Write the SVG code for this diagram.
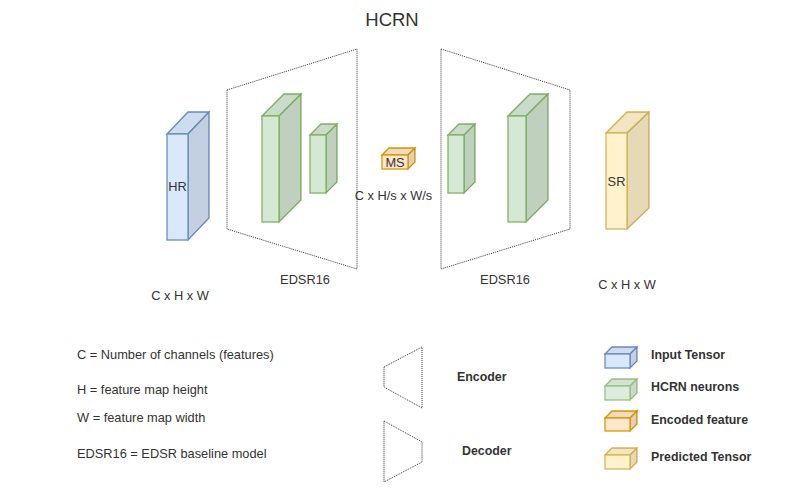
<svg xmlns="http://www.w3.org/2000/svg" width="804" height="500" viewBox="0 0 804 500">
<style>
text{font-family:"Liberation Sans",Arial,Helvetica,sans-serif;fill:#333;font-size:12.8px}
.b{font-weight:bold;font-size:12.4px}
.trap{fill:none;stroke:#333;stroke-width:1;stroke-dasharray:1 1}
.blue{fill:#dae8fc;stroke:#6c8ebf;stroke-width:1.3}
.green{fill:#d5e8d4;stroke:#82b366;stroke-width:1.3}
.orange{fill:#ffe6cc;stroke:#d79b00;stroke-width:1.3}
.yellow{fill:#fff2cc;stroke:#d6b656;stroke-width:1.3}
.shade1{fill:#000;fill-opacity:0.05;stroke:none}
.shade2{fill:#000;fill-opacity:0.1;stroke:none}
</style>
<rect width="804" height="500" fill="#fff"/>
<text x="392" y="26" text-anchor="middle" style="font-size:18.5px">HCRN</text>

<g id="encoder">
<polygon class="trap" points="227,90 357,49 357,269 227,229"/>
</g>
<g id="decoder">
<polygon class="trap" points="441,49 570,90 570,229 441,269"/>
</g>

<g id="hr">
<polygon class="blue" points="167,134 188,112 209,112 188,134"/>
<polygon class="shade1" points="167,134 188,112 209,112 188,134"/>
<polygon class="blue" points="188,134 209,112 209,218 188,240"/>
<polygon class="shade2" points="188,134 209,112 209,218 188,240"/>
<rect class="blue" x="167" y="134" width="21" height="106"/>
<text x="177.5" y="191" text-anchor="middle">HR</text>
</g>

<g id="g1">
<polygon class="green" points="262,116 284,94 301,94 279,116"/>
<polygon class="shade1" points="262,116 284,94 301,94 279,116"/>
<polygon class="green" points="279,116 301,94 301,200 279,222"/>
<polygon class="shade2" points="279,116 301,94 301,200 279,222"/>
<rect class="green" x="262" y="116" width="17" height="106"/>
</g>
<g id="g2">
<polygon class="green" points="310,135 321,124 337,124 326,135"/>
<polygon class="shade1" points="310,135 321,124 337,124 326,135"/>
<polygon class="green" points="326,135 337,124 337,182 326,193"/>
<polygon class="shade2" points="326,135 337,124 337,182 326,193"/>
<rect class="green" x="310" y="135" width="16" height="58"/>
</g>

<g id="ms">
<polygon class="orange" points="382,155 389,148 415,148 408,155"/>
<polygon class="shade1" points="382,155 389,148 415,148 408,155"/>
<polygon class="orange" points="408,155 415,148 415,162 408,169"/>
<polygon class="shade2" points="408,155 415,148 415,162 408,169"/>
<rect class="orange" x="382" y="155" width="26" height="14"/>
<text x="395" y="166.5" text-anchor="middle">MS</text>
<text x="393.5" y="200" text-anchor="middle">C x H/s x W/s</text>
</g>

<g id="g3">
<polygon class="green" points="448,135 459,124 475,124 464,135"/>
<polygon class="shade1" points="448,135 459,124 475,124 464,135"/>
<polygon class="green" points="464,135 475,124 475,182 464,193"/>
<polygon class="shade2" points="464,135 475,124 475,182 464,193"/>
<rect class="green" x="448" y="135" width="16" height="58"/>
</g>
<g id="g4">
<polygon class="green" points="508,116 530,94 548,94 526,116"/>
<polygon class="shade1" points="508,116 530,94 548,94 526,116"/>
<polygon class="green" points="526,116 548,94 548,200 526,222"/>
<polygon class="shade2" points="526,116 548,94 548,200 526,222"/>
<rect class="green" x="508" y="116" width="18" height="106"/>
</g>

<g id="sr">
<polygon class="yellow" points="606,133 627,112 649,112 627,133"/>
<polygon class="shade1" points="606,133 627,112 649,112 627,133"/>
<polygon class="yellow" points="627,133 649,112 649,208 627,229"/>
<polygon class="shade2" points="627,133 649,112 649,208 627,229"/>
<rect class="yellow" x="606" y="133" width="21" height="96"/>
<text x="616.5" y="186" text-anchor="middle">SR</text>
</g>

<g id="labels">
<text x="180" y="300" text-anchor="middle">C x H x W</text>
<text x="305" y="284" text-anchor="middle">EDSR16</text>
<text x="505" y="284" text-anchor="middle">EDSR16</text>
<text x="627" y="289" text-anchor="middle">C x H x W</text>
<text x="77" y="359">C = Number of channels (features)</text>
<text x="77" y="394">H = feature map height</text>
<text x="77" y="422">W = feature map width</text>
<text x="77" y="458">EDSR16 = EDSR baseline model</text>
</g>

<g id="legend-enc">
<polygon class="trap" points="384,367 422,347 422,408 384,387"/>
<text class="b" x="457" y="381">Encoder</text>
</g>
<g id="legend-dec">
<polygon class="trap" points="384,421 422,442 422,462 384,482"/>
<text class="b" x="462" y="455">Decoder</text>
</g>

<g id="legend-input">
<polygon class="blue" points="605,354 612,347 637,347 630,354"/>
<polygon class="shade1" points="605,354 612,347 637,347 630,354"/>
<polygon class="blue" points="630,354 637,347 637,361 630,368"/>
<polygon class="shade2" points="630,354 637,347 637,361 630,368"/>
<rect class="blue" x="605" y="354" width="25" height="14"/>
<text class="b" x="651" y="359">Input Tensor</text>
</g>
<g id="legend-hcrn">
<g opacity="0.8">
<polygon class="green" points="605,386 612,379 637,379 630,386"/>
<polygon class="shade1" points="605,386 612,379 637,379 630,386"/>
<polygon class="green" points="630,386 637,379 637,393 630,400"/>
<polygon class="shade2" points="630,386 637,379 637,393 630,400"/>
<rect class="green" x="605" y="386" width="25" height="14"/>
</g>
<text class="b" x="651" y="391">HCRN neurons</text>
</g>
<g id="legend-enc-feat">
<polygon class="orange" points="605,418 612,411 637,411 630,418"/>
<polygon class="shade1" points="605,418 612,411 637,411 630,418"/>
<polygon class="orange" points="630,418 637,411 637,424 630,431"/>
<polygon class="shade2" points="630,418 637,411 637,424 630,431"/>
<rect class="orange" x="605" y="418" width="25" height="13"/>
<text class="b" x="651" y="424">Encoded feature</text>
</g>
<g id="legend-pred">
<polygon class="yellow" points="605,455 612,448 637,448 630,455"/>
<polygon class="shade1" points="605,455 612,448 637,448 630,455"/>
<polygon class="yellow" points="630,455 637,448 637,462 630,469"/>
<polygon class="shade2" points="630,455 637,448 637,462 630,469"/>
<rect class="yellow" x="605" y="455" width="25" height="14"/>
<text class="b" x="651" y="461">Predicted Tensor</text>
</g>
</svg>
